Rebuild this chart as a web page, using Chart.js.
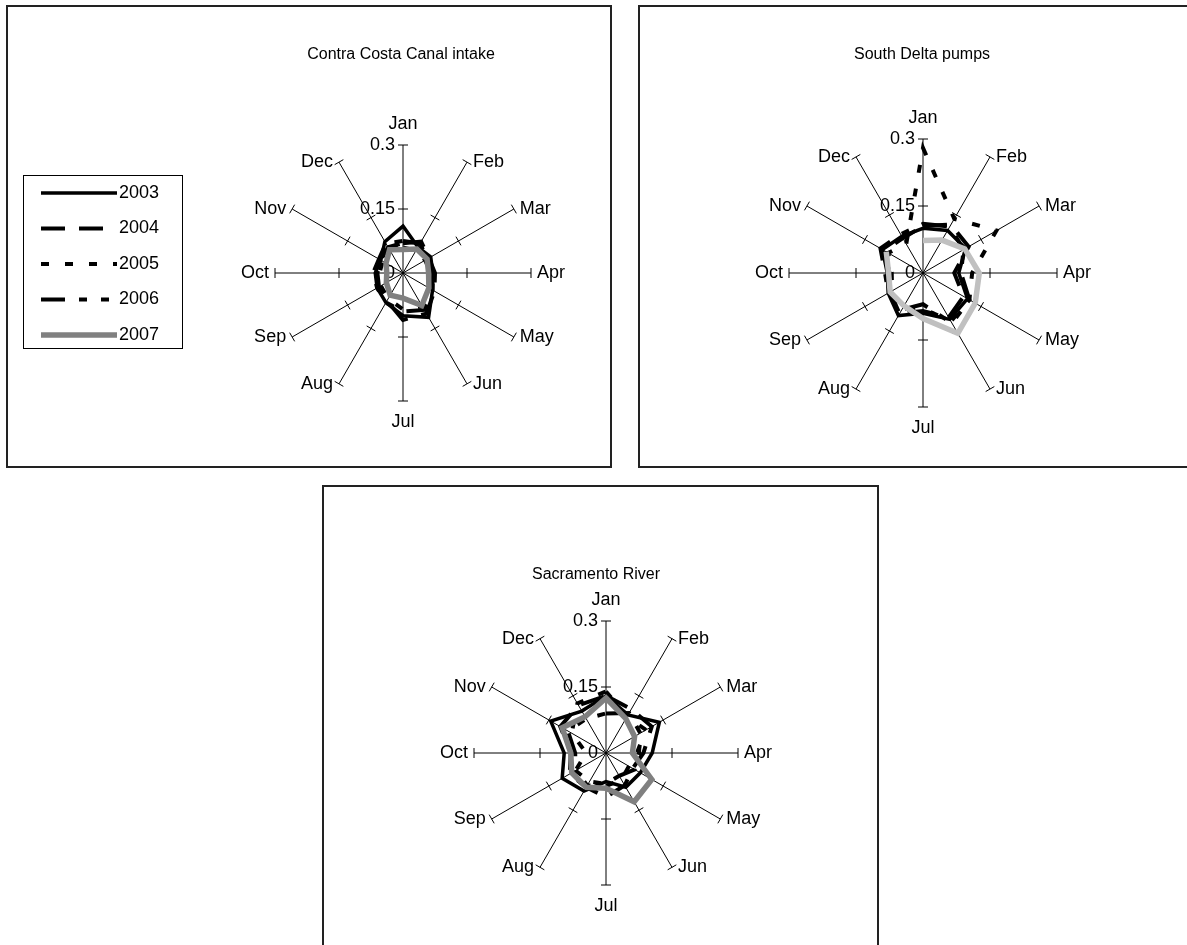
<!DOCTYPE html>
<html>
<head>
<meta charset="utf-8">
<title>Monthly radar charts</title>
<script src="https://cdn.jsdelivr.net/npm/chart.js@4.4.0/dist/chart.umd.min.js"></script>
<style>
  body { margin: 0; width: 1187px; height: 945px; overflow: hidden; position: relative; background: #fff; }
  .panel { position: absolute; border: 2px solid #222; box-sizing: border-box; background: #fff; }
  canvas { position: absolute; }
</style>
</head>
<body>
<div class="panel" style="left:6px;top:5px;width:606px;height:463px"></div>
<div class="panel" style="left:638px;top:5px;width:560px;height:463px"></div>
<div class="panel" style="left:322px;top:485px;width:557px;height:470px"></div>
<canvas id="ccc"></canvas>
<canvas id="sdp"></canvas>
<canvas id="sac"></canvas>
<script>
const months = ['Jan', 'Feb', 'Mar', 'Apr', 'May', 'Jun', 'Jul', 'Aug', 'Sep', 'Oct', 'Nov', 'Dec'];
const years = ['2003', '2004', '2005', '2006', '2007'];
const tickValues = [0, 0.15, 0.3];
const tickLabels = ['0', '0.15', '0.3'];

// Contra Costa Canal intake
const ccc2003 = [0.11, 0.07, 0.075, 0.07, 0.08, 0.12, 0.10, 0.08, 0.07, 0.065, 0.06, 0.085];
const ccc2004 = [0.07, 0.085, 0.07, 0.075, 0.085, 0.11, 0.11, 0.075, 0.065, 0.06, 0.06, 0.07];
const ccc2005 = [0.06, 0.06, 0.06, 0.065, 0.075, 0.09, 0.085, 0.07, 0.06, 0.055, 0.055, 0.065];
const ccc2006 = [0.075, 0.08, 0.065, 0.07, 0.08, 0.10, 0.09, 0.08, 0.07, 0.07, 0.065, 0.08];
const ccc2007 = [0.055, 0.065, 0.065, 0.06, 0.07, 0.088, 0.059, 0.06, 0.045, 0.038, 0.046, 0.063];

// South Delta pumps
const sdp2003 = [0.10, 0.11, 0.11, 0.08, 0.115, 0.12, 0.09, 0.11, 0.09, 0.08, 0.105, 0.095];
const sdp2004 = [0.105, 0.125, 0.118, 0.07, 0.105, 0.115, 0.085, 0.105, 0.085, 0.075, 0.10, 0.09];
const sdp2005 = [0.28, 0.14, 0.19, 0.11, 0.12, 0.125, 0.08, 0.10, 0.08, 0.07, 0.09, 0.075];
const sdp2006 = [0.11, 0.12, 0.105, 0.085, 0.12, 0.13, 0.07, 0.095, 0.09, 0.085, 0.11, 0.10];
const sdp2007 = [0.073, 0.085, 0.108, 0.126, 0.135, 0.156, 0.102, 0.085, 0.085, 0.077, 0.095, null];

// Sacramento River
const sac2003 = [0.13, 0.10, 0.14, 0.105, 0.09, 0.09, 0.065, 0.10, 0.115, 0.095, 0.145, 0.11];
const sac2004 = [0.13, 0.115, 0.12, 0.085, 0.07, 0.085, 0.10, 0.09, 0.095, 0.08, 0.12, 0.125];
const sac2005 = [0.14, 0.095, 0.105, 0.07, 0.06, 0.07, 0.075, 0.085, 0.08, 0.045, 0.09, 0.13];
const sac2006 = [0.09, 0.105, 0.09, 0.075, 0.075, 0.06, 0.07, 0.075, 0.08, 0.07, 0.10, 0.09];
const sac2007 = [0.125, 0.09, 0.075, 0.06, 0.12, 0.128, 0.08, 0.09, 0.09, 0.08, 0.115, 0.095];

const FONT = '"Liberation Sans", Arial, sans-serif';
const FONT_SIZE = 18;
const TITLE_SIZE = 16;

const lineStyles = [
  { color: '#000000', width: 3.5, dash: [] },
  { color: '#000000', width: 4, dash: [24, 14] },
  { color: '#000000', width: 4, dash: [8, 16] },
  { color: '#000000', width: 4, dash: [24, 14, 8, 14, 8, 14] },
  { color: '#808080', width: 5.5, dash: [] }
];

// draws the Excel style axis decorations, title and (optionally) the legend
const excelRadar = {
  id: 'excelRadar',
  beforeDatasetsDraw(chart, args, opts) {
    const scale = chart.scales.r;
    const ctx = chart.ctx;
    ctx.save();
    ctx.strokeStyle = '#000';
    ctx.lineWidth = 1;
    // tick crosses on every spoke
    for (let i = 0; i < months.length; i++) {
      const a = scale.getIndexAngle(i) - Math.PI / 2;
      const px = -Math.sin(a), py = Math.cos(a);
      tickValues.slice(1).forEach(v => {
        const p = scale.getPointPositionForValue(i, v);
        ctx.beginPath();
        ctx.moveTo(p.x - px * 5, p.y - py * 5);
        ctx.lineTo(p.x + px * 5, p.y + py * 5);
        ctx.stroke();
      });
    }
    ctx.fillStyle = '#000';
    ctx.font = FONT_SIZE + 'px ' + FONT;
    // value labels along the Jan axis
    ctx.textAlign = 'right';
    ctx.textBaseline = 'middle';
    tickValues.forEach((v, k) => {
      const p = scale.getPointPositionForValue(0, v);
      ctx.fillText(tickLabels[k], p.x - 8, p.y);
    });
    // month labels
    months.forEach((m, i) => {
      const end = scale.getPointPosition(i, scale.drawingArea);
      if (i === 0) {
        ctx.textAlign = 'center';
        ctx.fillText(m, end.x, end.y - 21);
      } else if (i === 6) {
        ctx.textAlign = 'center';
        ctx.fillText(m, end.x, end.y + 21);
      } else if (i < 6) {
        ctx.textAlign = 'left';
        ctx.fillText(m, end.x + 6, end.y);
      } else {
        ctx.textAlign = 'right';
        ctx.fillText(m, end.x - 6, end.y);
      }
    });
    // title
    ctx.font = TITLE_SIZE + 'px ' + FONT;
    ctx.textAlign = 'center';
    ctx.fillText(opts.title, opts.titleX - opts.left, opts.titleY - opts.top);
    ctx.restore();
  },
  afterDraw(chart, args, opts) {
    if (!opts.legend) return;
    const ctx = chart.ctx;
    const lg = opts.legend;
    ctx.save();
    ctx.strokeStyle = '#000';
    ctx.lineWidth = 1;
    ctx.strokeRect(lg.x - opts.left + 0.5, lg.y - opts.top + 0.5, lg.w, lg.h);
    ctx.font = FONT_SIZE + 'px ' + FONT;
    ctx.textAlign = 'left';
    ctx.textBaseline = 'middle';
    chart.data.datasets.forEach((ds, k) => {
      const y = lg.firstRow + k * lg.rowGap - opts.top;
      ctx.beginPath();
      ctx.strokeStyle = k === 4 ? '#808080' : ds.borderColor;
      ctx.lineWidth = ds.borderWidth;
      ctx.setLineDash(ds.borderDash);
      ctx.moveTo(lg.lineX0 - opts.left, y);
      ctx.lineTo(lg.lineX1 - opts.left, y);
      ctx.stroke();
      ctx.setLineDash([]);
      ctx.fillStyle = '#000';
      ctx.fillText(ds.label, lg.lineX1 + 2 - opts.left, y);
    });
    ctx.restore();
  }
};

function makeRadar(id, box, center, title, series, greyColor, legend) {
  const canvas = document.getElementById(id);
  canvas.width = box.w;
  canvas.height = box.h;
  canvas.style.left = box.left + 'px';
  canvas.style.top = box.top + 'px';
  const r = center.r;
  const padLeft = center.x - r - box.left;
  const padTop = center.y - r - box.top;
  const datasets = series.map((vals, k) => ({
    label: years[k],
    data: vals,
    borderColor: k === 4 ? greyColor : lineStyles[k].color,
    borderWidth: lineStyles[k].width,
    borderDash: lineStyles[k].dash,
    borderJoinStyle: 'miter',
    fill: false,
    pointRadius: 0,
    tension: 0,
    spanGaps: false,
    // grey series drawn last so it lies on top of the black lines
    order: k === 4 ? 0 : 5 - k
  }));
  return new Chart(canvas, {
    type: 'radar',
    data: { labels: months, datasets: datasets },
    options: {
      responsive: false,
      animation: false,
      events: [],
      layout: {
        padding: {
          left: padLeft,
          top: padTop,
          right: box.w - padLeft - 2 * r,
          bottom: box.h - padTop - 2 * r
        }
      },
      scales: {
        r: {
          min: 0,
          max: 0.3,
          startAngle: 0,
          ticks: { display: false, stepSize: 0.15 },
          grid: { display: false },
          angleLines: { display: true, color: '#000', lineWidth: 1 },
          pointLabels: { display: false }
        }
      },
      plugins: {
        legend: { display: false },
        tooltip: { enabled: false },
        excelRadar: {
          title: title.text,
          titleX: title.x,
          titleY: title.y,
          left: box.left,
          top: box.top,
          legend: legend
        }
      }
    },
    plugins: [excelRadar]
  });
}

makeRadar('ccc',
  { left: 6, top: 5, w: 606, h: 463 },
  { x: 403, y: 273, r: 128 },
  { text: 'Contra Costa Canal intake', x: 401, y: 55 },
  [ccc2003, ccc2004, ccc2005, ccc2006, ccc2007],
  '#808080',
  { x: 23, y: 175, w: 159, h: 173, lineX0: 41, lineX1: 117, firstRow: 193, rowGap: 35.5 });

makeRadar('sdp',
  { left: 638, top: 5, w: 549, h: 463 },
  { x: 923, y: 273, r: 134 },
  { text: 'South Delta pumps', x: 922, y: 55 },
  [sdp2003, sdp2004, sdp2005, sdp2006, sdp2007],
  '#c0c0c0',
  null);

makeRadar('sac',
  { left: 322, top: 485, w: 557, h: 460 },
  { x: 606, y: 753, r: 132 },
  { text: 'Sacramento River', x: 596, y: 575 },
  [sac2003, sac2004, sac2005, sac2006, sac2007],
  '#808080',
  null);
</script>
</body>
</html>
